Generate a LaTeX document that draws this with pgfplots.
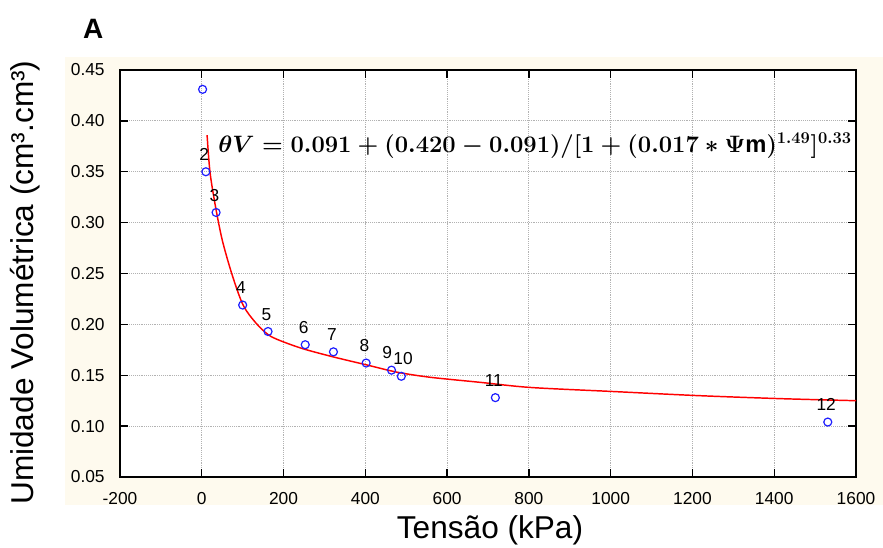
\documentclass[border=0pt]{standalone}
\usepackage{pgfplots}
\pgfplotsset{compat=1.18}
\usepackage{fontspec}
\setmainfont{Liberation Sans}
\definecolor{cream}{RGB}{254,250,238}
\definecolor{ptblue}{RGB}{30,30,255}
\newcommand{\eqn}{{\fontsize{17.28}{21}\selectfont\boldmath$\theta V = 0.091 + (0.420 - 0.091)/\lbrack 1 + (0.017 * \Psi\mathrm{m})^{1.49}\rbrack^{0.33}$}}
\begin{document}
\begin{tikzpicture}
\fill[white] (0,0) rectangle (662.25pt,-410.25pt);
\fill[cream] (48.75pt,-42.75pt) rectangle (662.25pt,-378.75pt);
\begin{axis}[
  at={(90pt,-357.75pt)}, anchor=south west,
  scale only axis, width=552pt, height=305.25pt,
  xmin=-200, xmax=1600, ymin=0.05, ymax=0.45,
  xtick distance=200, ytick distance=0.05,
  axis background/.style={fill=white},
  axis line style={line width=1.4pt},
  tick style={black, line width=1pt},
  major tick length=6pt,
  tick align=inside,
  xtick pos=both, ytick pos=both,
  grid=major,
  grid style={densely dotted, gray!60, line width=0.6pt},
  /pgf/number format/assume math mode=true,
  ticklabel style={font=\fontsize{13}{15}\selectfont},
  yticklabel style={/pgf/number format/.cd, fixed, fixed zerofill, precision=2, /tikz/.cd, xshift=-8pt},
  xticklabel style={/pgf/number format/.cd, fixed, 1000 sep={}, /tikz/.cd, yshift=-8pt},
  scaled y ticks=false,
  clip=false,
]
\addplot[red, line width=1.1pt, smooth] coordinates {
(13,0.386) (20,0.350) (33,0.317) (50,0.283) (74,0.249) (101,0.219)
(131,0.202) (162,0.190) (192,0.184) (248,0.176) (322,0.168) (405,0.160)
(478,0.153) (559,0.148) (682,0.143) (804,0.138) (1007,0.134) (1213,0.130)
(1416,0.127) (1600,0.125)
};
\addplot[only marks, mark=o, mark size=3pt, ptblue, line width=0.9pt,
  point meta=explicit symbolic,
  nodes near coords,
  every node near coord/.append style={black, anchor=center, yshift=13pt, xshift=-1.2pt, font=\fontsize{13}{15}\selectfont},
] table[meta=lab] {
x y lab
2 0.431 {}
10 0.350 2
35 0.310 3
100 0.219 4
162 0.193 5
253 0.180 6
322 0.173 7
402 0.162 8
464 0.155 {9\kern4pt}
488 0.149 {\kern5pt10}
718 0.128 11
1531 0.104 12
};
\node[anchor=base west, inner sep=0pt, scale=1.03, transform shape] at (axis cs:40,0.369) {\eqn};
\end{axis}
\node[font=\bfseries\fontsize{21}{24}\selectfont, inner sep=0pt] at (70pt,-22pt) {A};
\node[rotate=90, inner sep=0pt, font=\fontsize{23.7}{28}\selectfont] at (18.75pt,-212pt) {Umidade Volumétrica (cm³.cm³)};
\node[inner sep=0pt, font=\fontsize{23.7}{28}\selectfont] at (367.5pt,-397.5pt) {Tensão (kPa)};
\end{tikzpicture}
\end{document}
